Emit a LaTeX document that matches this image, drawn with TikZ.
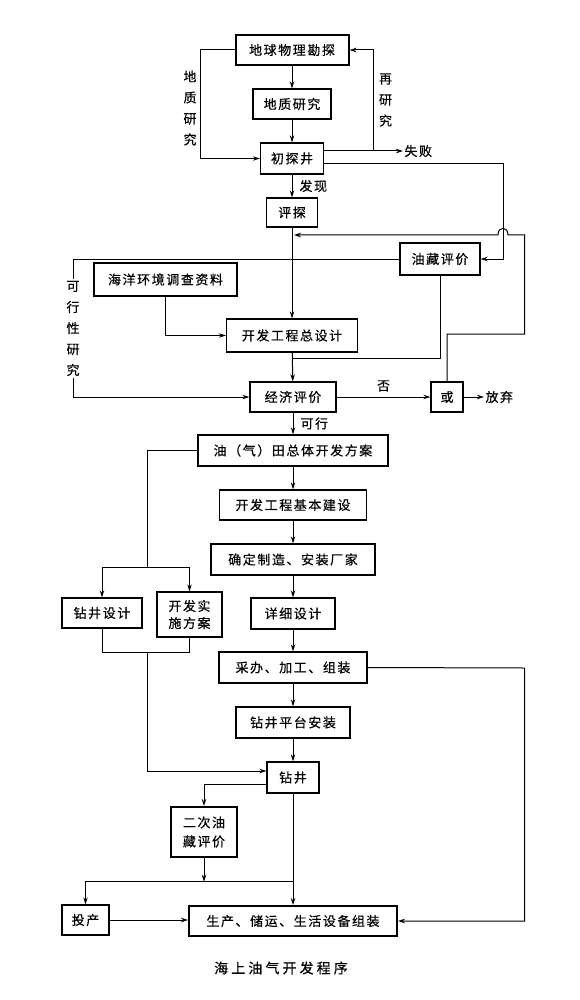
\documentclass[tikz,border=0pt]{standalone}
\usepackage{fontspec}
\usepackage{tikz}
\usetikzlibrary{arrows.meta}
\newfontfamily\cjk[LetterSpace=12, FakeBold=0.4]{Noto Sans CJK SC}
\newfontfamily\cjkcap[LetterSpace=22, FakeBold=0.4]{Noto Sans CJK SC}
\tikzset{
    box/.style={draw=black, line width=1.3pt, minimum height=31pt, inner sep=2pt},
    boldbox/.style={box, line width=2pt},
    lab/.style={inner sep=1pt},
    arr/.style={-{Stealth[length=7pt,width=4.5pt]}}
}
\begin{document}
\begin{tikzpicture}[x=1pt, y=-1pt, line width=1pt, font=\cjk\fontsize{13}{21}\selectfont]
    \useasboundingbox (0,0) rectangle (579,1000);
    % 勘探
    \node[boldbox, minimum width=113pt, minimum height=30pt] (dqwl) at (292,50) {地球物理勘探};
    \node[box, minimum width=78pt, minimum height=30pt] (dzyj) at (292,104) {地质研究};
    \node[box, minimum width=63pt] (ctj) at (292,158.5) {初探井};
    \node[box, minimum width=51pt, minimum height=29pt] (pt) at (292,212.5) {评探};
    \node[box, minimum width=80pt, minimum height=32pt] (ycpj) at (440,259) {油藏评价};
    \node[boldbox, minimum width=143pt, minimum height=33pt] (hyhj) at (165.5,279.5) {海洋环境调查资料};
    \node[box, minimum width=131pt, minimum height=33pt] (zsj) at (292,335.5) {开发工程总设计};
    \node[box, minimum width=86pt, minimum height=30pt] (jjpj) at (293,397) {经济评价};
    \node[box, minimum width=32pt, minimum height=30pt] (huo) at (447,397) {或};
    \node[lab, anchor=west] (fq) at (484,397) {放弃};
    \node[lab, anchor=west] (sb) at (403,151) {失败};
    % 竖排文字
    \node[lab, align=center] (dzlab) at (190,108) {地\\质\\研\\究};
    \node[lab, align=center] (zyj) at (385.5,100) {再\\研\\究};
    \node[lab, align=center] (kxyj) at (73,328.5) {可\\行\\性\\研\\究};
    % 开发
    \node[box, minimum width=190pt] (ztfa) at (293,450.5) {油（气）田总体开发方案};
    \node[box, minimum width=147pt, minimum height=30pt] (jbjs) at (293,505) {开发工程基本建设};
    \node[box, minimum width=164pt] (qdcj) at (293,559.5) {确定制造、安装厂家};
    \node[box, minimum width=84pt] (xxsj) at (293,613.5) {详细设计};
    \node[box, minimum width=80pt, minimum height=30pt] (zjsj) at (102,613) {钻井设计};
    \node[box, minimum width=65pt, minimum height=45pt, align=center, font=\cjk\fontsize{13}{17}\selectfont] (ssfa) at (189.5,614.5) {开发实\\施方案};
    \node[box, minimum width=148pt] (cbjg) at (293,667.5) {采办、加工、组装};
    \node[box, minimum width=114pt] (ptaz) at (293,722.5) {钻井平台安装};
    \node[box, minimum width=52pt] (zj) at (293,777.5) {钻井};
    \node[boldbox, minimum width=66pt, minimum height=50pt, align=center, font=\cjk\fontsize{13}{19}\selectfont] (ecpj) at (204,832) {二次油\\藏评价};
    \node[box, minimum width=47pt, minimum height=30pt] (tc) at (85.5,920) {投产};
    \node[boldbox, minimum width=208pt, minimum height=30pt] (scaz) at (293,921) {生产、储运、生活设备组装};
    \node[lab, font=\cjkcap\fontsize{14}{16}\selectfont] (title) at (281,968) {海上油气开发程序};
    \coordinate (zyjdot) at (373,151);
    % 连线
    \draw[arr] (dqwl) -- (dzyj);
    \draw[arr] (dzyj) -- (ctj);
    \draw[arr] (dqwl.west) -- ++(-34.3,0) |- (ctj.west);
    \draw[arr] (ctj.east |- zyjdot) -- (sb.west);
    \draw[arr] (zyjdot) |- (dqwl.east);
    \draw[arr] (ctj.east |- 0,164) -- (503,164) |- (ycpj.east);
    \draw[arr] (ctj) -- node[lab, right=6pt] {发现} (pt);
    \draw[arr] (pt) -- (zsj);
    \draw[arr] (huo.north) |- (524.5,334) -- (524.5,235) -- (508,235)
        .. controls (508,226) and (498,226) .. (498,235) -- (294,235);
    \draw (ycpj.west) -| (kxyj.north);
    \draw[arr] (kxyj.south) |- (jjpj.west);
    \draw[arr] (hyhj.south) |- (zsj.west);
    \draw (ycpj.south) |- (zsj.south |- 0,358);
    \draw[arr] (zsj) -- (jjpj);
    \draw[arr] (jjpj) -- node[lab, above=4pt] {否} (huo);
    \draw[arr] (huo) -- (fq);
    \draw[arr] (jjpj) -- node[lab, right=6pt] {可行} (ztfa);
    \draw[arr] (ztfa) -- (jbjs);
    \draw[arr] (jbjs) -- (qdcj);
    \draw[arr] (qdcj) -- (xxsj);
    \draw[arr] (xxsj) -- (cbjg);
    \draw[arr] (cbjg) -- (ptaz);
    \draw[arr] (ptaz) -- (zj);
    \draw (ztfa.west) -| (147,567);
    \draw[arr] (147,567) -| (zjsj.north);
    \draw[arr] (147,567) -| (ssfa.north);
    \draw (zjsj.south) |- (ssfa.south |- 0,652) -- (ssfa.south);
    \draw[arr] (147,652) |- (zj.west |- 0,771);
    \draw[arr] (cbjg.east) -- (524.5,668) |- (scaz.east);
    \draw[arr] (zj.west |- 0,784) -| (ecpj.north);
    \draw[arr] (zj) -- (scaz);
    \draw[arr] (ecpj) -- (ecpj.south |- 0,881.7);
    \draw[arr] (zj.south |- 0,881.7) -| (tc.north);
    \draw[arr] (tc) -- (tc -| scaz.west);
\end{tikzpicture}
\end{document}
